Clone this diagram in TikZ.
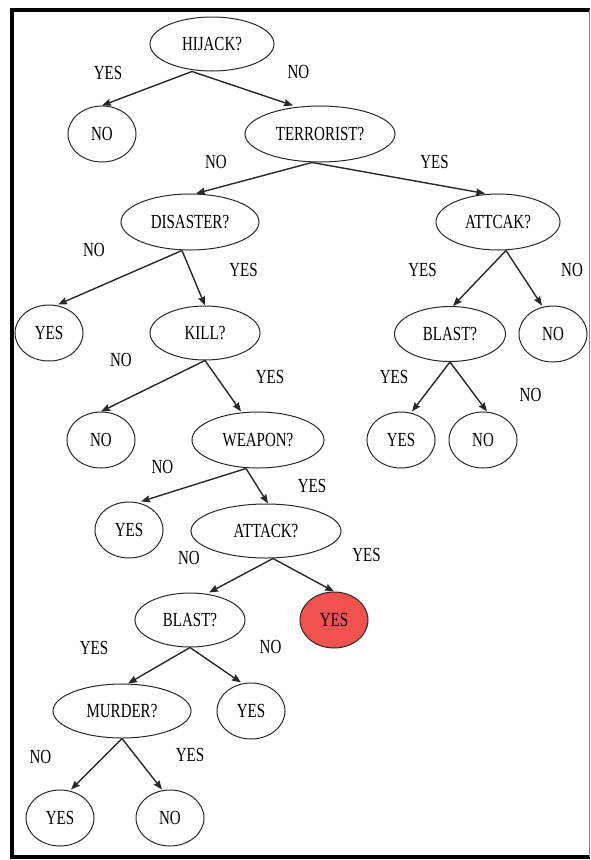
\documentclass[tikz,border=0pt]{standalone}
\usepackage{fontspec}
\setmainfont{Liberation Serif}[FakeStretch=0.75]
\usetikzlibrary{shapes.geometric, arrows.meta, positioning}

\definecolor{hitred}{RGB}{240,82,80}
\definecolor{edgegray}{RGB}{40,40,40}

\begin{document}
\begin{tikzpicture}[
    on grid,
    font=\fontsize{20}{24}\selectfont,
    quest/.style={ellipse, draw=edgegray, line width=1pt, inner sep=0pt, minimum height=55pt},
    leaf/.style={ellipse, draw=edgegray, line width=1pt, inner sep=0pt, minimum width=68pt, minimum height=56pt},
    edge/.style={-{Stealth[length=9pt, width=7pt, inset=1pt]}, line width=1.4pt, draw=edgegray},
    lbl/.style={inner sep=0pt}
]
    \useasboundingbox (0,0) rectangle (590pt,-860pt);
    \fill[white] (0,0) rectangle (590pt,-860pt);

    % frame
    \draw[line width=4pt] (590pt,-10pt) -- (12pt,-10pt) -- (12pt,-857pt) -- (590pt,-857pt);
    \draw[gray, line width=1pt] (589pt,-10pt) -- (589pt,-857pt);

    \node[quest, minimum width=124pt, minimum height=54pt] (hijack) at (212pt,-44pt) {HIJACK?};

    \node[leaf, below left=90pt and 110pt of hijack] (no1) {NO};
    \node[quest, minimum width=150pt, minimum height=56pt, below right=90pt and 108pt of hijack] (terror) {TERRORIST?};

    \node[quest, minimum width=138pt, minimum height=56pt, below left=88pt and 130pt of terror] (disaster) {DISASTER?};
    \node[quest, minimum width=124pt, minimum height=56pt, below right=88pt and 178pt of terror] (attcak) {ATTCAK?};

    \node[leaf, below left=111pt and 141pt of disaster] (yes1) {YES};
    \node[quest, minimum width=110pt, minimum height=54pt, below right=111pt and 15pt of disaster] (kill) {KILL?};
    \node[quest, minimum width=111pt, below left=112pt and 48pt of attcak] (blastr) {BLAST?};
    \node[leaf, below right=112pt and 55pt of attcak] (no2) {NO};

    \node[leaf, below left=107pt and 104pt of kill] (no3) {NO};
    \node[quest, minimum width=132pt, minimum height=56pt, below right=107pt and 53pt of kill] (weapon) {WEAPON?};
    \node[leaf, below left=106pt and 49pt of blastr] (yesr) {YES};
    \node[leaf, below right=106pt and 33pt of blastr] (nor) {NO};

    \node[leaf, below left=90pt and 129pt of weapon] (yes2) {YES};
    \node[quest, minimum width=150pt, minimum height=54pt, below right=91pt and 8pt of weapon] (attack) {ATTACK?};

    \node[quest, minimum width=110pt, minimum height=54pt, below left=89pt and 76pt of attack] (blast) {BLAST?};
    \node[leaf, fill=hitred, below right=89pt and 68pt of attack] (hit) {YES};

    \node[quest, minimum width=138pt, minimum height=54pt, below left=91pt and 68pt of blast] (murder) {MURDER?};
    \node[leaf, below right=91pt and 61pt of blast] (yes3) {YES};

    \node[leaf, below left=107pt and 62pt of murder] (yes4) {YES};
    \node[leaf, below right=107pt and 48pt of murder] (no4) {NO};

    \draw[edge] ([xshift=-20pt]hijack.south) -- node[lbl, shift={(-39pt,16pt)}] {YES} (no1.north);
    \draw[edge] ([xshift=-20pt]hijack.south) -- node[lbl, shift={(56pt,17pt)}] {NO} ([xshift=-27pt]terror.north);

    \draw[edge] ([xshift=-8pt]terror.south) -- node[lbl, shift={(-38pt,16pt)}] {NO} ([xshift=6pt]disaster.north);
    \draw[edge] ([xshift=-8pt]terror.south) -- node[lbl, shift={(36pt,16pt)}] {YES} ([xshift=-13pt]attcak.north);

    \draw[edge] ([xshift=-8pt]disaster.south) -- node[lbl, shift={(-26pt,28pt)}] {NO} ([xshift=9pt]yes1.north);
    \draw[edge] ([xshift=-8pt]disaster.south) -- node[lbl, shift={(50pt,8pt)}] {YES} (kill.north);
    \draw[edge] ([xshift=8pt]attcak.south) -- node[lbl, shift={(-57pt,8pt)}] {YES} ([xshift=3pt]blastr.north);
    \draw[edge] ([xshift=8pt]attcak.south) -- node[lbl, shift={(48pt,8pt)}] {NO} ([xshift=-11pt]no2.north);

    \draw[edge] (kill.south) -- node[lbl, shift={(-32pt,26pt)}] {NO} (no3.north);
    \draw[edge] (kill.south) -- node[lbl, shift={(47pt,9pt)}] {YES} ([xshift=-17pt]weapon.north);
    \draw[edge] (blastr.south) -- node[lbl, shift={(-37pt,10pt)}] {YES} ([xshift=11pt]yesr.north);
    \draw[edge] (blastr.south) -- node[lbl, shift={(62pt,-8pt)}] {NO} ([xshift=4pt]nor.north);

    \draw[edge] ([xshift=-12pt]weapon.south) -- node[lbl, shift={(-31pt,18pt)}] {NO} ([xshift=12pt]yes2.north);
    \draw[edge] ([xshift=-12pt]weapon.south) -- node[lbl, shift={(55pt,0pt)}] {YES} ([xshift=2pt]attack.north);

    \draw[edge] ([xshift=7pt]attack.south) -- node[lbl, shift={(-52pt,18pt)}] {NO} ([xshift=19pt]blast.north);
    \draw[edge] ([xshift=7pt]attack.south) -- node[lbl, shift={(63pt,20pt)}] {YES} (hit.north);

    \draw[edge] (blast.south) -- node[lbl, shift={(-65pt,18pt)}] {YES} ([xshift=6pt]murder.north);
    \draw[edge] (blast.south) -- node[lbl, shift={(55pt,18pt)}] {NO} ([xshift=-10pt]yes3.north);

    \draw[edge] (murder.south) -- node[lbl, shift={(-56pt,7pt)}] {NO} ([xshift=11pt]yes4.north);
    \draw[edge] (murder.south) -- node[lbl, shift={(48pt,9pt)}] {YES} ([xshift=-8pt]no4.north);
\end{tikzpicture}
\end{document}
